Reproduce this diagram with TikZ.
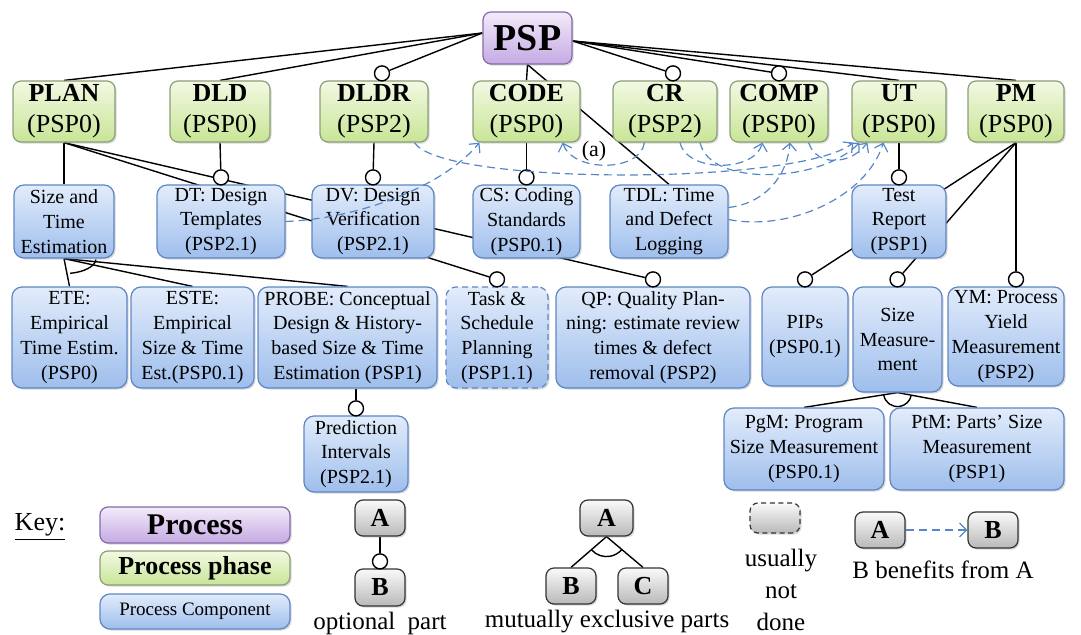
\documentclass[tikz,border=0pt]{standalone}
\usepackage{fontspec}
\setmainfont{Liberation Serif}
\usetikzlibrary{calc,arrows.meta,shadows}
\pgfdeclarelayer{background}
\pgfsetlayers{background,main}
\definecolor{phtop}{RGB}{242,249,226}
\definecolor{phbot}{RGB}{200,229,150}
\definecolor{phdraw}{RGB}{140,158,120}
\definecolor{cptop}{RGB}{226,236,251}
\definecolor{cpbot}{RGB}{158,190,236}
\definecolor{cpdraw}{RGB}{95,135,195}
\definecolor{prtop}{RGB}{243,235,250}
\definecolor{prbot}{RGB}{196,170,226}
\definecolor{prdraw}{RGB}{135,105,170}
\definecolor{gytop}{RGB}{250,250,250}
\definecolor{gybot}{RGB}{185,185,185}
\definecolor{benblue}{RGB}{85,135,200}
\tikzset{
 boxbase/.style={rectangle, rounded corners=4pt, line width=0.6pt, align=center, inner sep=0.5pt,
   drop shadow={shadow xshift=0.8pt, shadow yshift=-0.8pt, opacity=0.3}},
 proc/.style={boxbase, draw=prdraw, top color=prtop, bottom color=prbot},
 phase/.style={boxbase, draw=phdraw, top color=phtop, bottom color=phbot, font=\fontsize{13}{15.5}\selectfont},
 comp/.style={boxbase, rounded corners=5pt, draw=cpdraw, top color=cptop, bottom color=cpbot, font=\fontsize{10}{12.4}\selectfont},
 gbox/.style={boxbase, draw=black!80, top color=gytop, bottom color=gybot, font=\fontsize{13}{15}\selectfont\bfseries},
 opt/.style={circle, draw, fill=white, line width=0.7pt, minimum size=7.5pt, inner sep=0pt},
 ln/.style={line width=0.7pt},
 ben/.style={draw=benblue, line width=0.6pt, dash pattern=on 4pt off 2.5pt, -{Straight Barb[length=3.5pt,width=7pt]}},
 lbl/.style={font=\fontsize{12.5}{16}\selectfont, align=center, inner sep=0pt},
}
\newcommand\pbx[7]{%
 \pgfmathsetmacro\pbxcx{(#3+#5)/2}%
 \pgfmathsetmacro\pbxcy{-(#4+#6)/2}%
 \pgfmathsetmacro\pbxw{(#5-#3)/2}%
 \pgfmathsetmacro\pbxh{(#6-#4)/2}%
 \node[#1,minimum width=\pbxw pt,minimum height=\pbxh pt] (#2) at (\pbxcx,\pbxcy) {#7};}
\begin{document}
\begin{tikzpicture}[x=0.5pt,y=0.5pt]
\useasboundingbox (0,0) rectangle (1081,-635);
% process
\pbx{proc,font=\fontsize{19}{20}\selectfont\bfseries}{PSP}{483}{12}{572}{64}{PSP}
% phases
\pbx{phase}{PLAN}{13}{81}{115}{142}{\textbf{PLAN}\\(PSP0)}
\pbx{phase}{DLD}{170}{81}{270}{142}{\textbf{DLD}\\(PSP0)}
\pbx{phase}{DLDR}{320}{81}{428}{142}{\textbf{DLDR}\\(PSP2)}
\pbx{phase}{CODE}{473}{81}{580}{142}{\textbf{CODE}\\(PSP0)}
\pbx{phase}{CR}{613}{81}{717}{142}{\textbf{CR}\\(PSP2)}
\pbx{phase}{COMP}{730}{81}{828}{142}{\textbf{COMP}\\(PSP0)}
\pbx{phase}{UT}{852}{81}{946}{142}{\textbf{UT}\\(PSP0)}
\pbx{phase}{PM}{968}{81}{1064}{142}{\textbf{PM}\\(PSP0)}
% components row 1
\pbx{comp}{ST}{14}{185}{114}{258}{Size and\\Time\\Estimation}
\pbx{comp}{DT}{157}{185}{285}{258}{DT: Design\\Templates\\(PSP2.1)}
\pbx{comp}{DV}{312}{185}{434}{258}{DV: Design\\Verification\\(PSP2.1)}
\pbx{comp}{CS}{473}{185}{580}{258}{CS: Coding\\Standards\\(PSP0.1)}
\pbx{comp}{TDL}{610}{185}{728}{258}{TDL: Time\\and Defect\\Logging}
\pbx{comp}{TR}{852}{185}{946}{258}{Test\\Report\\(PSP1)}
% components row 2
\pbx{comp}{ETE}{12}{287}{127}{388}{ETE:\\Empirical\\Time Estim.\\(PSP0)}
\pbx{comp}{ESTE}{131}{287}{254}{388}{ESTE:\\Empirical\\Size \& Time\\Est.(PSP0.1)}
\pbx{comp}{PROBE}{258}{287}{437}{388}{PROBE: Conceptual\\Design \& History-\\based Size \& Time\\Estimation (PSP1)}
\pbx{comp,dash pattern=on 3pt off 2pt}{TASK}{446}{287}{548}{388}{Task \&\\Schedule\\Planning\\(PSP1.1)}
\pbx{comp}{QP}{556}{287}{750}{388}{QP: Quality Plan-\\ning: estimate review\\times \& defect\\removal (PSP2)}
\pbx{comp}{PIPs}{762}{287}{848}{386}{PIPs\\(PSP0.1)}
\pbx{comp}{SM}{853}{287}{942}{392}{Size\\Measure-\\ment}
\pbx{comp}{YM}{948}{287}{1064}{386}{YM: Process\\Yield\\Measurement\\(PSP2)}
% components row 3
\pbx{comp}{PRED}{304}{416}{408}{492}{Prediction\\Intervals\\(PSP2.1)}
\pbx{comp}{PgM}{724}{408}{884}{490}{PgM: Program\\Size Measurement\\(PSP0.1)}
\pbx{comp}{PtM}{890}{408}{1064}{490}{PtM: Parts' Size\\Measurement\\(PSP1)}
% key
\node[font=\fontsize{13}{15}\selectfont, inner sep=0pt] (key) at (40,-527) {\underline{Key:}};
\pbx{proc,font=\fontsize{15}{16}\selectfont\bfseries}{LP}{100}{507}{290}{543}{Process}
\pbx{phase,font=\fontsize{13}{14}\selectfont\bfseries}{LPh}{100}{551}{290}{585}{Process phase}
\pbx{comp,font=\fontsize{9.5}{11}\selectfont}{LC}{100}{594}{290}{629}{Process Component}
\pbx{gbox}{OA}{355}{500}{405}{536}{A}
\pbx{gbox}{OB}{355}{569}{405}{606}{B}
\node[lbl] (optT) at (380,-623) {optional\hspace{3pt} part};
\pbx{gbox}{MA}{580}{500}{633}{536}{A}
\pbx{gbox}{MB}{546}{568}{596}{604}{B}
\pbx{gbox}{MC}{618}{568}{668}{604}{C}
\node[lbl] (mexT) at (607,-622) {mutually exclusive parts};
\pbx{gbox,dash pattern=on 2.5pt off 1.8pt}{ND}{750}{503}{800}{533}{}
\node[lbl] (ndT) at (781,-590) {usually\\not\\done};
\pbx{gbox}{BA}{855}{512}{905}{548}{A}
\pbx{gbox}{BB}{968}{512}{1018}{548}{B}
\node[lbl] (benT) at (943,-570) {B benefits from A};
% optional circles
\node[opt] (oDLDR) at ($(DLDR.north)+(8,7)$) {};
\node[opt] (oCR) at ($(CR.north)+(8,7)$) {};
\node[opt] (oCOMP) at ($(COMP.north)+(0,7)$) {};
\node[opt] (oDT) at ($(DT.north)+(0,7)$) {};
\node[opt] (oDV) at ($(DV.north)+(0,7)$) {};
\node[opt] (oCS) at ($(CS.north)+(0,7)$) {};
\node[opt] (oTR) at ($(TR.north)+(0,7)$) {};
\node[opt] (oTASK) at ($(TASK.north)+(0,7)$) {};
\node[opt] (oQP) at ($(QP.north)+(0,7)$) {};
\node[opt] (oPIPs) at ($(PIPs.north)+(0,7)$) {};
\node[opt] (oSM) at ($(SM.north)+(0,7)$) {};
\node[opt] (oYM) at ($(YM.north -| PM.south)+(0,7)$) {};
\node[opt] (oPRED) at ($(PRED.north)+(0,7)$) {};
\node[opt] (oL) at ($(OB.north)+(0,7)$) {};
% tree connectors
\begin{pgfonlayer}{background}
 \coordinate (pspL) at ($(PSP.west)+(0,5)$);
 \coordinate (pspR) at ($(PSP.east)+(0,-3)$);
 \draw[ln] (pspL) -- (PLAN.north);
 \draw[ln] (pspL) -- (DLD.north);
 \draw[ln] (pspL) -- (oDLDR);
 \draw[ln] (PSP.south) -- (CODE.north);
 \draw[ln] (PSP.south) -- (TDL.north);
 \draw[ln] (pspR) -- (oCR);
 \draw[ln] (pspR) -- (oCOMP);
 \draw[ln] (pspR) -- (UT.north);
 \draw[ln] (pspR) -- (PM.north);
 \draw[ln] (PLAN.south) -- (ST.north);
 \draw[ln] (PLAN.south) -- (oTASK);
 \draw[ln] (PLAN.south) -- (oQP);
 \draw[ln] (DLD.south) -- (oDT);
 \draw[ln] (DLDR.south) -- (oDV);
 \draw[ln] (CODE.south) -- (oCS);
 \draw[ln] (UT.south) -- (oTR);
 \draw[ln] (PM.south) -- (oPIPs);
 \draw[ln] (PM.south) -- (oSM);
 \draw[ln] (PM.south) -- (oYM);
 \draw[ln] (ST.south) -- (ETE.north);
 \draw[ln] (ST.south) -- (ESTE.north);
 \draw[ln] (ST.south) -- (PROBE.north);
 \draw[ln] (PRED.north |- PROBE.south) -- (oPRED);
 \draw[ln] (SM.south) -- (PgM.north);
 \draw[ln] (SM.south) -- (PtM.north);
 \draw[ln] (OA.south) -- (oL);
 \draw[ln] (MA.south) -- (MB.north);
 \draw[ln] (MA.south) -- (MC.north);
\end{pgfonlayer}
% exclusive arcs
\draw[ln] ($(ST.south)+(-79:32 and 15)$) arc[start angle=-79,end angle=-4,x radius=32,y radius=15];
\draw[ln] ($(SM.south)+(190:14)$) arc[start angle=190,end angle=349,radius=14];
\draw[ln] ($(MA.south)+(222:20)$) arc[start angle=222,end angle=319,radius=20];
% benefits arrows
\draw[ben] (DT.east) .. controls ($(DT.east)+(75,3)$) and ($(CODE.south west)+(-28,-43)$) .. ($(CODE.south west)+(7,0)$);
\draw[ben] ($(CR.south west)+(32,0)$) .. controls ($(CR.south west)+(28,-30)$) and ($(CODE.south east)+(-8,-30)$) .. ($(CODE.south east)+(-18,0)$);
\node[font=\fontsize{11}{12}\selectfont, inner sep=0pt] (aLbl) at (594,-151) {(a)};
\draw[ben] ($(CR.south)+(15,0)$) .. controls ($(CR.south)+(22,-30)$) and ($(COMP.south west)+(25,-30)$) .. ($(COMP.south west)+(33,0)$);
\draw[ben] ($(CR.south)+(35,0)$) .. controls ($(CR.south)+(45,-45)$) and ($(UT.south west)+(-30,-40)$) .. ($(UT.south west)+(8,0)$);
\draw[ben] ($(COMP.south east)+(-20,0)$) .. controls ($(COMP.south east)+(-12,-25)$) and ($(UT.south west)+(0,-22)$) .. ($(UT.south west)+(16,0)$);
\draw[ben] ($(DLDR.south east)+(-14,0)$) .. controls ($(DLDR.south east)+(12,-43)$) and ($(UT.south west)+(-52,-43)$) .. ($(UT.south west)+(2,0)$);
\draw[ben] ($(TDL.east)+(0,14)$) .. controls ($(TDL.east)+(35,18)$) and ($(COMP.south)+(8,-35)$) .. ($(COMP.south)+(11,0)$);
\draw[ben] ($(TDL.east)+(0,2)$) .. controls ($(TDL.east)+(60,-10)$) and ($(UT.south west)+(15,-55)$) .. ($(UT.south west)+(32,0)$);
\draw[ben] (BA.east) -- (BB.west);
\end{tikzpicture}
\end{document}
